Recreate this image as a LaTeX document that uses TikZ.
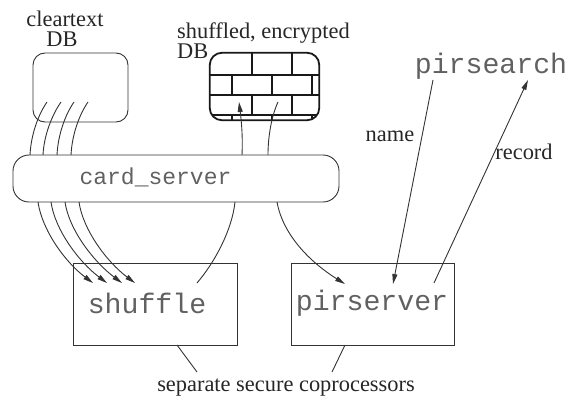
\documentclass[tikz,border=0pt]{standalone}
\usepackage{fontspec}
\setmainfont{Liberation Serif}
\setmonofont{Liberation Mono}
\usetikzlibrary{arrows.meta,calc}
\begin{document}
\begin{tikzpicture}[x=1pt,y=-1pt,
  ln/.style={draw=black!80, line width=0.9pt},
  arr/.style={ln, -{Triangle[length=10pt,width=5pt]}},
  dbbox/.style={ln, rounded corners=12pt, inner sep=0pt},
  procbox/.style={ln, inner sep=0pt},
  lbl/.style={text=black!85, font=\fontsize{22.4}{22}\selectfont, inner sep=0pt},
  code/.style={text=black!62, font=\ttfamily\fontsize{23}{23}\selectfont, inner sep=0pt},
  bigcode/.style={text=black!62, font=\ttfamily\fontsize{28.2}{28}\selectfont, inner sep=0pt},
  brick/.style={draw=black!90, line width=1.8pt}
]
\useasboundingbox (0,0) rectangle (568,396);

% cleartext DB
\node[dbbox, minimum width=95pt, minimum height=69pt] (cleardb) at (80.5,87.5) {};
\node[lbl, anchor=base] (cleartop) at (65,27) {cleartext};
\node[lbl, anchor=base] (cleardbl) at (62,47) {DB};

% encrypted DB
\node[inner sep=0pt, minimum width=109pt, minimum height=67pt] (encdb) at (264.5,86.5) {};
\begin{scope}
  \clip[rounded corners=12pt] (210,53) rectangle (319,120);
  \foreach \yy in {75,95,115} \draw[brick] (205,\yy) -- (325,\yy);
  \foreach \xx in {252,292} {
    \draw[brick] (\xx,50) -- (\xx,75);
    \draw[brick] (\xx,95) -- (\xx,115);
  }
  \foreach \xx in {232,272,312} {
    \draw[brick] (\xx,75) -- (\xx,95);
    \draw[brick] (\xx,115) -- (\xx,125);
  }
\end{scope}
\draw[draw=black!90, line width=1.8pt, rounded corners=12pt] (encdb.north west) rectangle (encdb.south east);
\node[lbl, anchor=base west] (enctop) at (177,39) {shuffled, encrypted};
\node[lbl, anchor=base west] (encdbl) at (177,59) {DB};

% card_server
\node[dbbox, rounded corners=16pt, minimum width=326pt, minimum height=47pt] (card) at (176,178.5) {};
\node[code] (cardlbl) at (155.5,177) {card\_server};

% shuffle and pirserver
\node[procbox, minimum width=164pt, minimum height=82pt] (shufbox) at (155,304) {};
\node[bigcode] (shuflbl) at (147,303) {shuffle};
\node[procbox, minimum width=163pt, minimum height=82pt] (pirbox) at (372.5,304) {};
\node[bigcode] (pirlbl) at (372,303) {pirserver};

% pirsearch
\node[bigcode] (pirsearch) at (491,66) {pirsearch};

% coordinates
\coordinate (a1) at (47,102); \coordinate (b1) at (30,155); \coordinate (c1) at (38,202); \coordinate (d1) at (93,283);
\coordinate (a2) at (61,102); \coordinate (b2) at (43,155); \coordinate (c2) at (51,202); \coordinate (d2) at (107,283);
\coordinate (a3) at (74,102); \coordinate (b3) at (57,155); \coordinate (c3) at (65,202); \coordinate (d3) at (122,283);
\coordinate (a4) at (88,102); \coordinate (b4) at (71,155); \coordinate (c4) at (79,202); \coordinate (d4) at (135,283);

\foreach \i in {1,2,3,4} {
  \draw[ln] (a\i) .. controls ($(a\i)+(-9,13)$) and ($(b\i)+(1,-20)$) .. (b\i);
  \draw[arr] (c\i) .. controls ($(c\i)+(4,28)$) and ($(d\i)+(-28,-21)$) .. (d\i);
}

\coordinate (s1) at (197,283); \coordinate (s2) at (235,202);
\coordinate (e1) at (242,155); \coordinate (e2) at (239,102);
\coordinate (f1) at (278,102); \coordinate (f2) at (268,155);
\coordinate (p1) at (277,202); \coordinate (p2) at (345,284);
\draw[ln] (s1) .. controls (215,262) and (232,230) .. (s2);
\draw[arr] (e1) .. controls (243,135) and (241,118) .. (e2);
\draw[ln] (f1) .. controls (272,115) and (268,135) .. (f2);
\draw[arr] (p1) .. controls (283,235) and (310,262) .. (p2);

\coordinate (n1) at (433,80); \coordinate (n2) at (393,284);
\coordinate (r1) at (434,283); \coordinate (r2) at (528,80);
\draw[arr] (n1) -- (n2);
\draw[arr] (r1) -- (r2);
\node[lbl, anchor=base] (namelbl) at (390,141) {name};
\node[lbl, anchor=base] (reclbl) at (524,159) {record};

% coprocessors
\coordinate (q1) at (177,345); \coordinate (q2) at (197,372);
\coordinate (t1) at (345,345); \coordinate (t2) at (332,372);
\draw[ln] (q1) -- (q2);
\draw[ln] (t1) -- (t2);
\node[lbl, anchor=base] (coplbl) at (286,391) {separate secure coprocessors};
\end{tikzpicture}
\end{document}
